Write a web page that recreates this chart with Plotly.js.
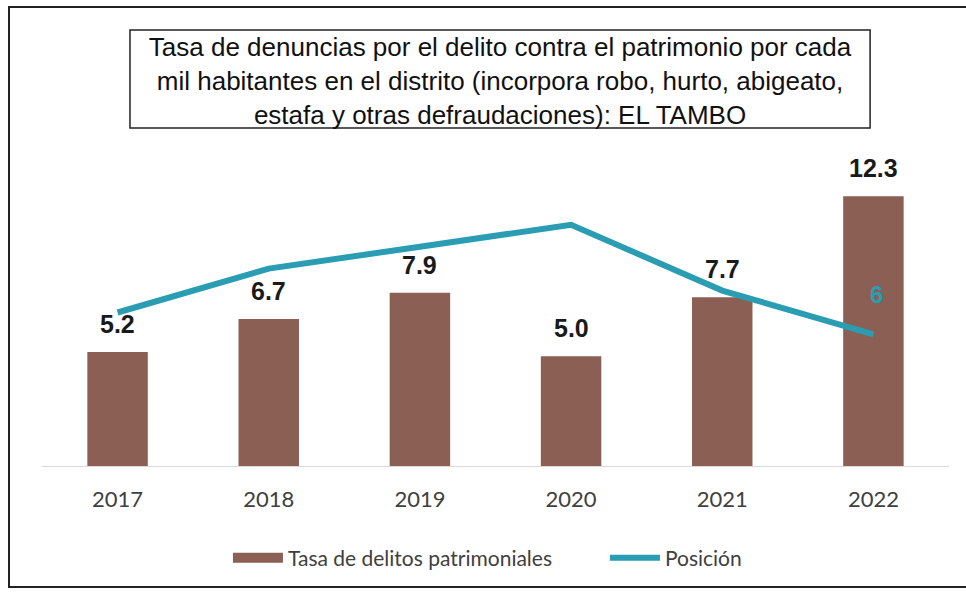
<!DOCTYPE html>
<html>
<head>
<meta charset="utf-8">
<script src="https://cdn.plot.ly/plotly-3.0.1.min.js"></script>
<style>
  body { margin: 0; background: #fff; }
  #wrap { position: relative; width: 966px; height: 608px; overflow: hidden; }
  #chart { position: absolute; left: 0; top: 0; width: 966px; height: 608px; }
  #frame { position: absolute; left: 8px; top: 6px; width: 1000px; height: 578px;
           border-left: 2px solid #222; border-top: 2px solid #222; border-bottom: 2px solid #222;
           pointer-events: none; }
</style>
</head>
<body>
<div id="wrap">
  <div id="chart"></div>
  <div id="frame"></div>
</div>
<script>
const years = ['2017', '2018', '2019', '2020', '2021', '2022'];
const tasa = [5.2, 6.7, 7.9, 5.0, 7.7, 12.3];
const posicion = [7, 9, 10, 11, 8, 6];
const seriesNames = ['Tasa de delitos patrimoniales', 'Posición'];
const titleText = 'Tasa de denuncias por el delito contra el patrimonio por cada<br>mil habitantes en el distrito (incorpora robo, hurto, abigeato,<br>estafa y otras defraudaciones): EL TAMBO';

const barColor = '#8b5f53';
const lineColor = '#2a9db3';
const labelFont = { family: 'Liberation Sans, Arial, sans-serif', size: 25, color: '#1a1a1a', weight: 'bold' };

const traces = [
  {
    type: 'bar',
    name: seriesNames[0],
    x: years,
    y: tasa,
    marker: { color: barColor },
    showlegend: false,
    hoverinfo: 'x+y'
  },
  {
    type: 'scatter',
    mode: 'lines',
    name: seriesNames[1],
    x: years,
    y: posicion,
    line: { color: lineColor, width: 6 },
    hoverinfo: 'x+y',
    legendrank: 2
  },
  {
    // legend swatch for the bar series (no marks drawn)
    type: 'scatter',
    mode: 'lines',
    name: seriesNames[0],
    x: [null],
    y: [null],
    line: { color: barColor, width: 16 },
    hoverinfo: 'skip',
    legendrank: 1
  }
];

const last = posicion.length - 1;

const barLabels = years.map((yr, i) => ({
  x: i, y: tasa[i], xref: 'x', yref: 'y',
  text: tasa[i].toFixed(1),
  showarrow: false,
  yanchor: 'bottom',
  yshift: 12,
  font: labelFont
}));

const layout = {
  width: 966,
  height: 608,
  margin: { l: 42, r: 17, t: 159, b: 142, autoexpand: false },
  paper_bgcolor: 'rgba(0,0,0,0)',
  plot_bgcolor: 'rgba(0,0,0,0)',
  bargap: 0.6,
  showlegend: true,
  title: {
    text: titleText,
    font: { family: 'Liberation Sans, Arial, sans-serif', size: 26, color: '#111' },
    xref: 'paper', x: 0.505, xanchor: 'center',
    yref: 'container', y: 0.908, yanchor: 'top'
  },
  xaxis: {
    type: 'category',
    categoryorder: 'array',
    categoryarray: years,
    showgrid: false,
    showline: true,
    linecolor: '#d9d9d9',
    linewidth: 1,
    ticks: '',
    ticklabelstandoff: 14,
    tickfont: { family: 'Lato, Open Sans, sans-serif', size: 22, color: '#404040' }
  },
  yaxis: {
    range: [0, 14],
    showgrid: false,
    zeroline: false,
    showticklabels: false,
    showline: false,
    ticks: ''
  },
  legend: {
    orientation: 'h',
    x: 0.205, xanchor: 'left',
    y: -0.30, yanchor: 'middle',
    itemwidth: 50,
    entrywidth: 312,
    entrywidthmode: 'pixels',
    font: { family: 'Lato, Open Sans, sans-serif', size: 21, color: '#404040' },
    traceorder: 'normal'
  },
  shapes: [
    {
      type: 'rect', xref: 'paper', yref: 'paper',
      x0: 0.097, x1: 0.913, y0: 1.101, y1: 1.420,
      line: { color: '#222', width: 1.5 },
      fillcolor: 'rgba(0,0,0,0)'
    }
  ],
  annotations: barLabels.concat([
    {
      x: last, y: posicion[last],
      xref: 'x', yref: 'y',
      text: String(posicion[last]),
      showarrow: false,
      yshift: 40,
      xshift: 3,
      font: { family: 'Liberation Sans, Arial, sans-serif', size: 24, color: lineColor, weight: 'bold' }
    }
  ])
};

Plotly.newPlot('chart', traces, layout, { displayModeBar: false, staticPlot: true });
</script>
</body>
</html>
